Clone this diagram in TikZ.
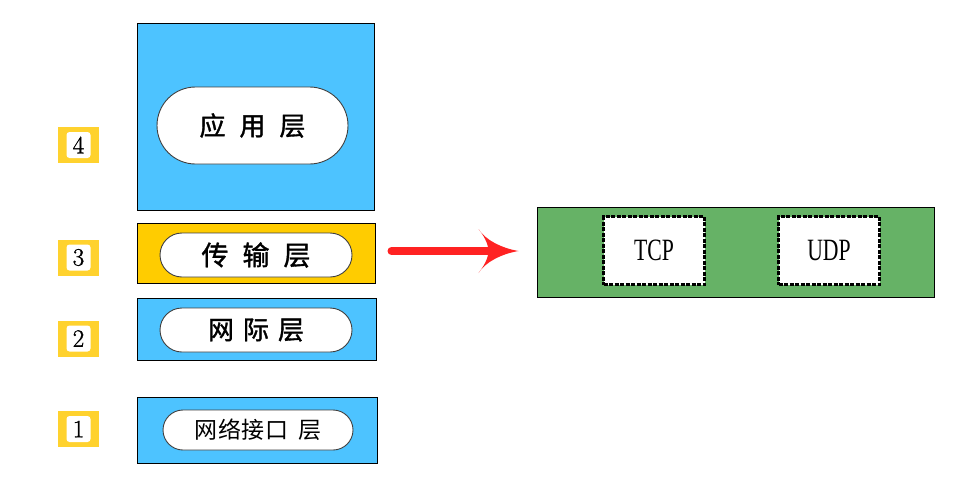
\documentclass[tikz,border=0pt]{standalone}
\usepackage{fontspec}
\newfontfamily\cjk{Noto Sans CJK SC}
\newfontfamily\cjkb[FakeBold=1.3]{Noto Sans CJK SC}
\newfontfamily\tnr{Liberation Serif}
\newfontfamily\digitfont[FakeBold=1.2]{Latin Modern Roman}
\usetikzlibrary{shapes.misc,calc}
\definecolor{skyb}{HTML}{4DC3FF}
\definecolor{yel}{HTML}{FFCC00}
\definecolor{badge}{HTML}{FFD22E}
\definecolor{grn}{HTML}{66B266}
\definecolor{arr}{HTML}{FF2222}
\tikzset{
  layer/.style={draw=black, line width=1, rectangle, inner sep=0},
  pill/.style={draw=black!75, line width=0.9, fill=white, rounded rectangle, inner sep=0, font=\cjkb},
  badgebox/.style={fill=badge, minimum width=41, minimum height=36, inner sep=0},
  badgein/.style={fill=white, rounded corners=3, minimum width=24, minimum height=26, inner sep=0, font=\digitfont\fontsize{25}{25}\selectfont},
  proto/.style={draw=black, fill=white, line width=2.5, dash pattern=on 4 off 1.5, minimum width=101, minimum height=68, inner sep=0, font=\tnr},
}
\begin{document}
\begin{tikzpicture}[x=1pt,y=-1pt]
\useasboundingbox (0,0) rectangle (965,487);
% badges
\foreach \n/\y in {4/145,3/257.5,2/338.5,1/429}{
  \node[badgebox] (b\n) at (78.5,\y) {};
  \node[badgein] (bi\n) at (78.5,\y) {\raisebox{-0.5ex}{\n}};
}
% layer boxes
\node[layer, fill=skyb, minimum width=237, minimum height=186] (L4) at (255.5,117) {};
\node[layer, fill=yel, minimum width=238, minimum height=60] (L3) at (256,253) {};
\node[layer, fill=skyb, minimum width=239, minimum height=62] (L2) at (256.5,329) {};
\node[layer, fill=skyb, minimum width=240, minimum height=66] (L1) at (257,430) {};
% pills
\node[pill, minimum width=191, minimum height=77] (P4) at (252.5,125.5)
  {\fontsize{26}{26}\selectfont 应\hspace{14pt}用\hspace{14pt}层};
\node[pill, minimum width=192, minimum height=44] (P3) at (256,255)
  {\fontsize{27}{27}\selectfont 传\hspace{14pt}输\hspace{14pt}层};
\node[pill, minimum width=192, minimum height=44] (P2) at (256,330)
  {\fontsize{26}{26}\selectfont 网\hspace{9pt}际\hspace{9pt}层};
\node[pill, minimum width=190, minimum height=40, font=\cjk] (P1) at (258,430)
  {\fontsize{23}{23}\selectfont 网\hspace{0.5pt}络\hspace{0.5pt}接\hspace{0.5pt}口\hspace{10pt}层};
% transport detail
\node[layer, fill=grn, minimum width=397, minimum height=90] (G) at (735.5,252) {};
\node[proto] (tcp) at (654,250.5) {\scalebox{0.7}[1]{\fontsize{31}{31}\selectfont TCP}};
\node[proto] (udp) at (829,250.5) {\scalebox{0.7}[1]{\fontsize{31}{31}\selectfont UDP}};
% arrow
\coordinate (as) at ($(L3.east)+(16,-2)$);
\coordinate (at) at ($(G.west)+(-18,-1)$);
\draw[arr, line width=8, line cap=round] (as) -- ($(at)+(-26,0)$);
\fill[arr] (at) .. controls ($(at)+(-18,-3)$) and ($(at)+(-34,-12)$) .. ($(at)+(-40,-22)$)
  .. controls ($(at)+(-32,-12)$) and ($(at)+(-30,-4)$) .. ($(at)+(-30,0)$)
  .. controls ($(at)+(-30,4)$) and ($(at)+(-32,12)$) .. ($(at)+(-40,22)$)
  .. controls ($(at)+(-34,12)$) and ($(at)+(-18,3)$) .. (at) -- cycle;
\end{tikzpicture}
\end{document}
